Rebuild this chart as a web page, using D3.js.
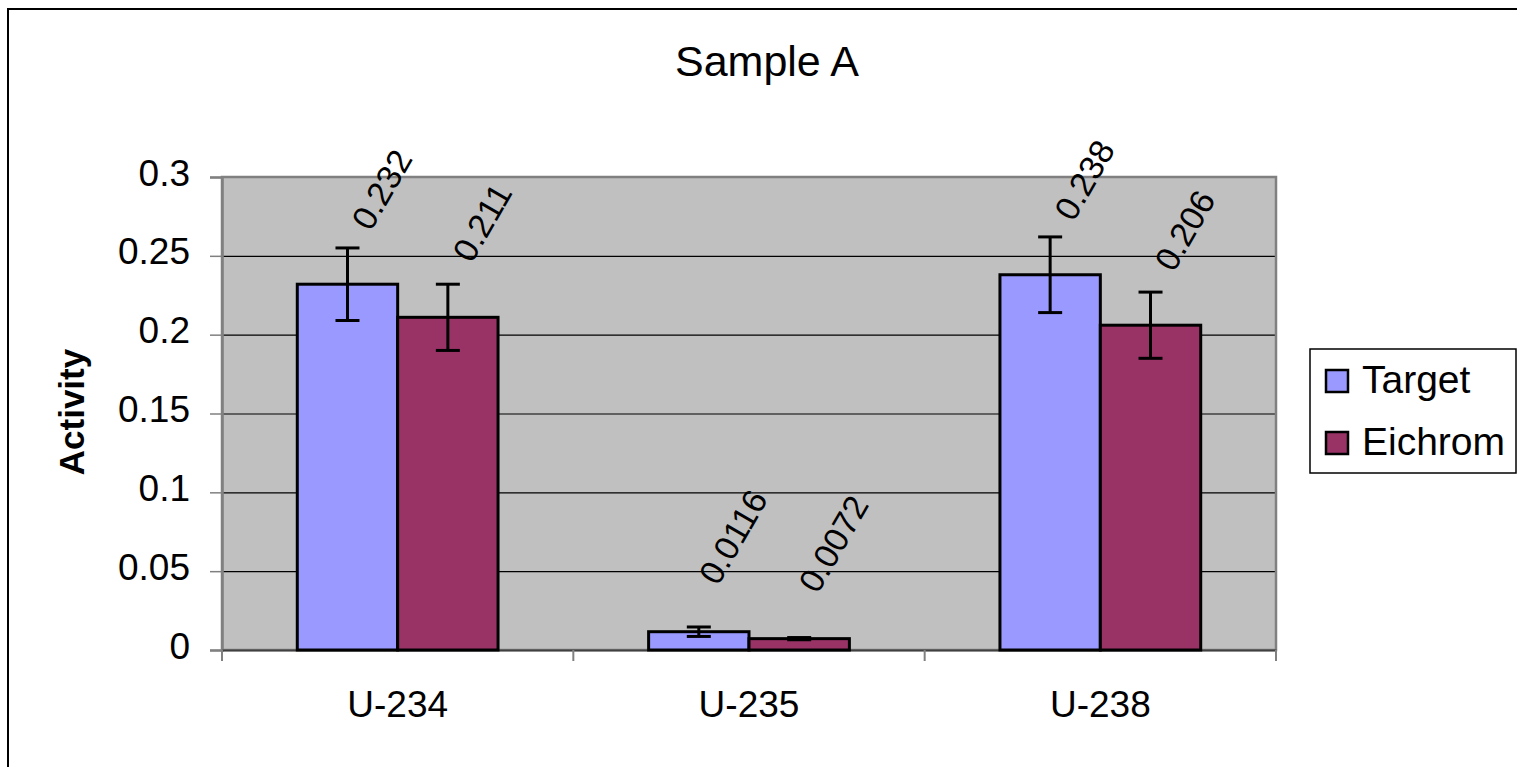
<!DOCTYPE html>
<html>
<head>
<meta charset="utf-8">
<script src="https://cdn.jsdelivr.net/npm/d3@7"></script>
<style>
  body { margin: 0; background: #fff; }
  svg { display: block; font-family: "Liberation Sans", Arial, sans-serif; }
</style>
</head>
<body>
<svg id="chart" width="1517" height="767"></svg>
<script>
// ---- data ----
const categories = ["U-234", "U-235", "U-238"];
const seriesNames = ["Target", "Eichrom"];
const targetValues = [0.232, 0.0116, 0.238];
const eichromValues = [0.211, 0.0072, 0.206];
const targetErrors = [0.023, 0.003, 0.024];
const eichromErrors = [0.021, 0.0007, 0.021];
const targetLabels = ["0.232", "0.0116", "0.238"];
const eichromLabels = ["0.211", "0.0072", "0.206"];
const yTicks = [0, 0.05, 0.1, 0.15, 0.2, 0.25, 0.3];
const yTickLabels = ["0", "0.05", "0.1", "0.15", "0.2", "0.25", "0.3"];
const titleText = "Sample A";
const yAxisTitle = "Activity";

const colors = { Target: "#9999FF", Eichrom: "#993366" };

const svg = d3.select("#chart");

// outer chart border (extends past the image right/bottom)
svg.append("rect").attr("x", 8).attr("y", 9).attr("width", 1540).attr("height", 800)
  .attr("fill", "#fff").attr("stroke", "#000").attr("stroke-width", 2);

const plot = { left: 222, right: 1276, top: 177, bottom: 650 };

const x = d3.scaleBand().domain(categories).range([plot.left, plot.right]).padding(0);
const xs = d3.scaleBand().domain(seriesNames).range([0, x.bandwidth()])
  .paddingInner(0).paddingOuter(0.75);
const y = d3.scaleLinear().domain([0, 0.3]).range([plot.bottom, plot.top]);

// plot background
svg.append("rect").attr("x", plot.left).attr("y", plot.top)
  .attr("width", plot.right - plot.left).attr("height", plot.bottom - plot.top)
  .attr("fill", "#C0C0C0");

// gridlines
const grid = svg.append("g").attr("transform", `translate(${plot.left},0)`)
  .call(d3.axisLeft(y).tickValues(yTicks.slice(1, -1)).tickSize(-(plot.right - plot.left)).tickFormat(""));
grid.select(".domain").remove();
grid.selectAll("line").attr("stroke", "#000").attr("stroke-width", 1.2);

// plot border
svg.append("rect").attr("x", plot.left).attr("y", plot.top)
  .attr("width", plot.right - plot.left).attr("height", plot.bottom - plot.top)
  .attr("fill", "none").attr("stroke", "#808080").attr("stroke-width", 2.5);

// y axis
const yAxis = svg.append("g").attr("transform", `translate(${plot.left},0)`)
  .call(d3.axisLeft(y).tickValues(yTicks).tickSize(12).tickPadding(20)
    .tickFormat((d, i) => yTickLabels[i]));
yAxis.select(".domain").attr("stroke", "#808080").attr("stroke-width", 2.5);
yAxis.selectAll(".tick line").attr("stroke", "#808080").attr("stroke-width", 1.5);
yAxis.selectAll(".tick text").attr("font-size", 37).attr("fill", "#000")
  .attr("font-family", "Liberation Sans, Arial, sans-serif").attr("dy", "0.22em");

// x axis
const xAxis = svg.append("g").attr("transform", `translate(0,${plot.bottom})`)
  .call(d3.axisBottom(x).tickSize(0).tickPadding(0));
xAxis.select(".domain").attr("stroke", "#404040").attr("stroke-width", 2);
xAxis.selectAll(".tick text").attr("font-size", 37).attr("fill", "#000")
  .attr("font-family", "Liberation Sans, Arial, sans-serif").attr("dy", 0).attr("y", 67);
// category boundary ticks
const boundaries = categories.map(c => x(c)).concat([x(categories[categories.length - 1]) + x.bandwidth()]);
svg.append("g").selectAll("line").data(boundaries).join("line")
  .attr("x1", d => d).attr("x2", d => d).attr("y1", plot.bottom).attr("y2", plot.bottom + 11)
  .attr("stroke", "#808080").attr("stroke-width", 2);

// bars
const rows = [];
categories.forEach((c, i) => {
  rows.push({ cat: c, s: "Target", v: targetValues[i], e: targetErrors[i], lab: targetLabels[i] });
  rows.push({ cat: c, s: "Eichrom", v: eichromValues[i], e: eichromErrors[i], lab: eichromLabels[i] });
});

svg.append("g").selectAll("rect").data(rows).join("rect")
  .attr("x", d => x(d.cat) + xs(d.s))
  .attr("y", d => y(d.v))
  .attr("width", xs.bandwidth())
  .attr("height", d => y(0) - y(d.v))
  .attr("fill", d => colors[d.s])
  .attr("stroke", "#000").attr("stroke-width", 3);

// error bars
const eb = svg.append("g").attr("stroke", "#000").attr("stroke-width", 3);
rows.forEach(d => {
  const cx = x(d.cat) + xs(d.s) + xs.bandwidth() / 2;
  const y1 = y(d.v + d.e), y2 = y(d.v - d.e);
  eb.append("line").attr("x1", cx).attr("x2", cx).attr("y1", y1).attr("y2", y2);
  eb.append("line").attr("x1", cx - 12).attr("x2", cx + 12).attr("y1", y1).attr("y2", y1);
  eb.append("line").attr("x1", cx - 12).attr("x2", cx + 12).attr("y1", y2).attr("y2", y2);
});

// data labels (rotated)
svg.append("g").selectAll("text").data(rows).join("text")
  .attr("transform", d => {
    const cx = x(d.cat) + xs(d.s) + xs.bandwidth() / 2 + 34;
    const cy = y(d.v) - 95;
    return `translate(${cx},${cy}) rotate(-60)`;
  })
  .attr("text-anchor", "middle")
  .attr("dy", "0.36em")
  .attr("font-size", 34)
  .attr("fill", "#000")
  .text(d => d.lab);

// title
svg.append("text").attr("x", 767).attr("y", 76).attr("text-anchor", "middle")
  .attr("font-size", 43).attr("fill", "#000").text(titleText);

// y axis title
svg.append("text").attr("transform", "translate(84,412) rotate(-90)")
  .attr("text-anchor", "middle").attr("font-size", 35).attr("font-weight", "bold")
  .attr("fill", "#000").text(yAxisTitle);

// legend
const lg = svg.append("g");
lg.append("rect").attr("x", 1310).attr("y", 349).attr("width", 206).attr("height", 124)
  .attr("fill", "#fff").attr("stroke", "#000").attr("stroke-width", 1.5);
const ly = d3.scalePoint().domain(seriesNames).range([381, 443]);
seriesNames.forEach(s => {
  lg.append("rect").attr("x", 1326).attr("y", ly(s) - 11).attr("width", 22).attr("height", 22)
    .attr("fill", colors[s]).attr("stroke", "#000").attr("stroke-width", 2.5);
  lg.append("text").attr("x", 1362).attr("y", ly(s) + 12).attr("font-size", 39)
    .attr("fill", "#000").text(s);
});
</script>
</body>
</html>
